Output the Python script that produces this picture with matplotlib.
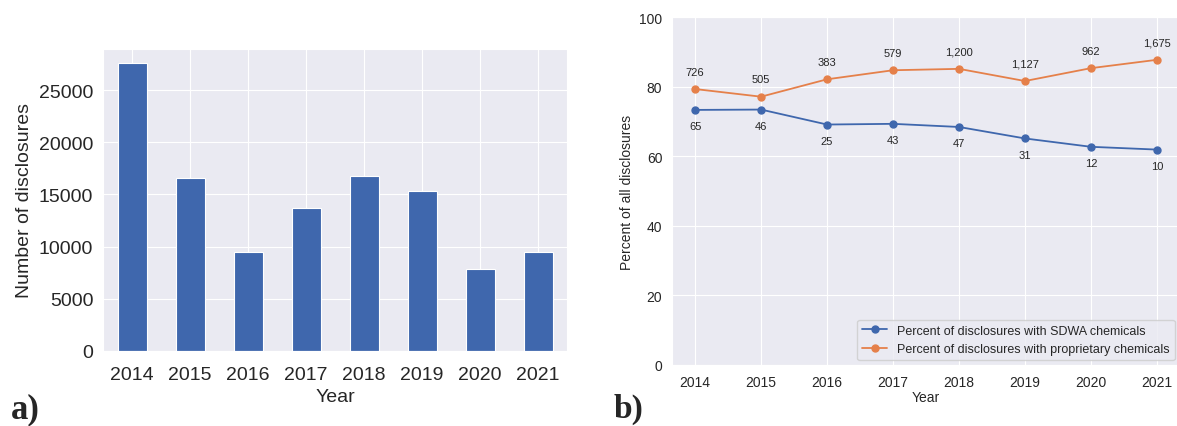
"""Disclosures per year (a) and share with SDWA / proprietary chemicals (b)."""
import matplotlib

matplotlib.use("Agg")
import seaborn as sns
from matplotlib import pyplot as plt

years = ["2014", "2015", "2016", "2017", "2018", "2019", "2020", "2021"]
n_disclosures = [27600, 16600, 9500, 13700, 16800, 15300, 7850, 9500]

pct_sdwa = [73.3, 73.4, 69.1, 69.3, 68.4, 65.1, 62.7, 61.9]
pct_proprietary = [79.3, 77.1, 82.1, 84.7, 85.1, 81.6, 85.3, 87.7]
labels_sdwa = ["65", "46", "25", "43", "47", "31", "12", "10"]
labels_proprietary = ["726", "505", "383", "579", "1,200", "1,127", "962", "1,675"]

BLUE = "#3f67ad"
ORANGE = "#e5804a"

sns.set_style("darkgrid")
plt.rcParams["font.family"] = ["Liberation Sans", "DejaVu Sans"]

fig = plt.figure(figsize=(11.77, 4.27), dpi=100)

# [a] bar chart of disclosures per year
ax1 = fig.add_axes([103 / 1177, 75 / 427, 464 / 1177, 302 / 427])
x = range(len(years))
ax1.bar(x, n_disclosures, width=0.5, color=BLUE, edgecolor="white", linewidth=0.8)
ax1.set_xlim(-0.5, len(years) - 0.5)
ax1.set_ylim(0, 28930)
ax1.set_xticks(list(x))
ax1.set_xticklabels(years)
ax1.tick_params(labelsize=14, colors="#262626")
ax1.tick_params(axis="x", pad=7)
ax1.set_xlabel("Year", fontsize=14, color="#262626", labelpad=4)
ax1.set_ylabel("Number of disclosures", fontsize=14, color="#262626")

# [b] percent of disclosures ~ year
ax2 = fig.add_axes([672 / 1177, 61 / 427, 508 / 1177, 348 / 427])
ax2.plot(x, pct_sdwa, marker="o", markersize=5, color=BLUE, linewidth=1.3,
         label="Percent of disclosures with SDWA chemicals")
ax2.plot(x, pct_proprietary, marker="o", markersize=5, color=ORANGE, linewidth=1.3,
         label="Percent of disclosures with proprietary chemicals")
for k in x:
    ax2.annotate(labels_proprietary[k], (k, pct_proprietary[k]), xytext=(0, 9),
                 textcoords="offset points", ha="center", va="bottom",
                 fontsize=8, color="#262626")
    ax2.annotate(labels_sdwa[k], (k, pct_sdwa[k]), xytext=(0, -8),
                 textcoords="offset points", ha="center", va="top",
                 fontsize=8, color="#262626")
ax2.set_xlim(-0.35, len(years) - 1 + 0.35)
ax2.set_ylim(0, 100)
ax2.set_xticks(list(x))
ax2.set_xticklabels(years)
ax2.tick_params(labelsize=10, colors="#262626")
ax2.set_xlabel("Year", fontsize=10, color="#262626", labelpad=1)
ax2.set_ylabel("Percent of all disclosures", fontsize=10, color="#262626")
ax2.legend(loc="lower right", fontsize=9, frameon=True, borderaxespad=0.4)

# panel letters
fig.text(11 / 1177, 1 - 418 / 427, "a)", fontsize=25, fontweight="bold",
         family="Liberation Serif", va="baseline")
fig.text(614 / 1177, 1 - 418 / 427, "b)", fontsize=24, fontweight="bold",
         family="Liberation Serif", va="baseline")

fig.savefig("out.png", dpi=100, facecolor="white")
